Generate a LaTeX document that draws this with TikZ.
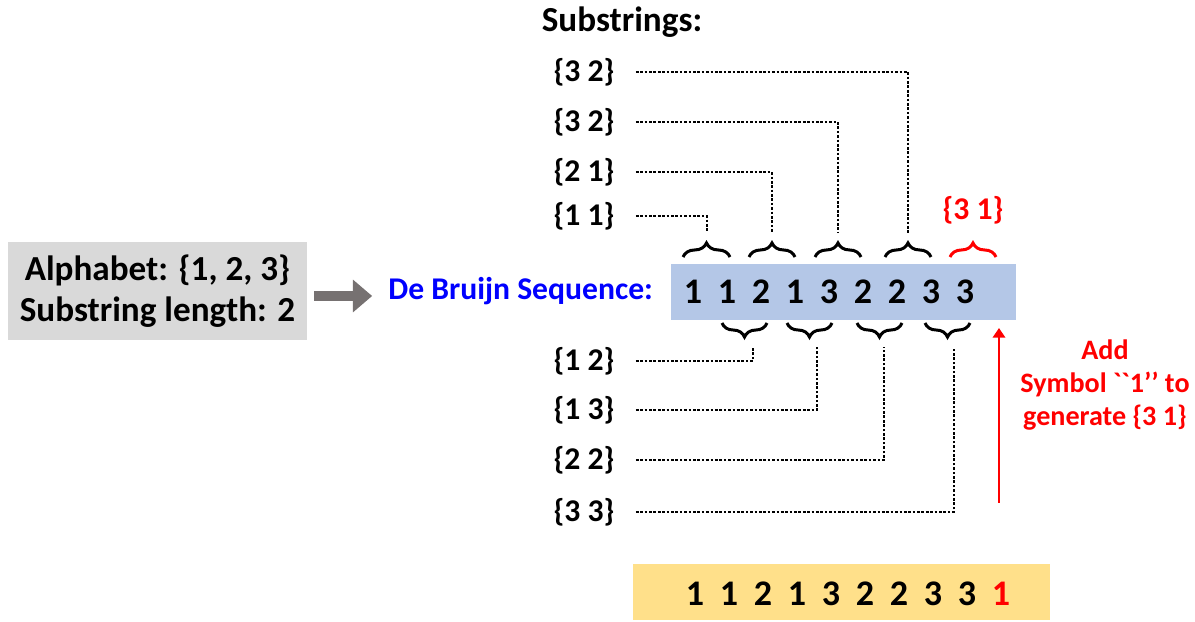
\documentclass[tikz,border=0pt]{standalone}
\usepackage{fontspec}
\setmainfont{Carlito}[Ligatures=TeXOff]
\usepackage{xcolor}
\usepackage{tikz}
\usetikzlibrary{arrows.meta,decorations.pathreplacing}
\definecolor{boxgray}{HTML}{D9D9D9}
\definecolor{arrowgray}{HTML}{767171}
\definecolor{seqblue}{HTML}{B4C7E7}
\definecolor{seqyellow}{HTML}{FFE08A}
\definecolor{dbblue}{HTML}{0000FF}
\definecolor{addred}{HTML}{FF0000}

\begin{document}
\begin{tikzpicture}[scale=0.2]
\tikzstyle{every node}+=[inner sep=0pt]
\tikzstyle{sub}=[font=\fontsize{18}{22}\selectfont\bfseries, inner xsep=12pt]
\tikzstyle{digit}=[font=\fontsize{20.5}{24}\selectfont\bfseries]
\tikzstyle{curly}=[decorate, decoration={brace, amplitude=8pt}, line width=1.7pt]
\tikzstyle{curlyflip}=[decorate, decoration={brace, amplitude=8pt, mirror}, line width=1.7pt]
\tikzstyle{link}=[line width=1.6pt, dash pattern=on 1.5pt off 1pt]
\useasboundingbox (0,0) rectangle (119.5,-62.2);
\node [fill=boxgray, minimum width=5.98cm, minimum height=1.96cm, align=center,
  font=\fontsize{20}{23}\selectfont\bfseries] (alpha) at (15.75,-29.1)
  {Alphabet: \{1, 2, 3\}\\Substring length: 2};
\node [anchor=base west, text=dbblue, font=\fontsize{18}{22}\selectfont\bfseries] (dbs) at (38.8,-30.0) {De Bruijn Sequence:};
\draw [arrowgray, line width=6pt, shorten <=4pt, shorten >=9pt, -{Triangle[width=18pt,length=11pt]}] (alpha.east |- 0,-29.6) -- (dbs.west |- 0,-29.6);
\node [fill=seqblue, minimum width=6.9cm, minimum height=1.12cm] (seq) at (84.35,-29.2) {};
\node [digit] (a1) at (69.3,-29.2) {1};
\node [digit] (a2) at (72.7,-29.2) {1};
\node [digit] (a3) at (76.1,-29.2) {2};
\node [digit] (a4) at (79.5,-29.2) {1};
\node [digit] (a5) at (82.9,-29.2) {3};
\node [digit] (a6) at (86.3,-29.2) {2};
\node [digit] (a7) at (89.7,-29.2) {2};
\node [digit] (a8) at (93.1,-29.2) {3};
\node [digit] (a9) at (96.5,-29.2) {3};
\node [sub, font=\fontsize{20}{24}\selectfont\bfseries] at (62.2,-2.2) {Substrings:};
\node [sub] (s32a) at (58.4,-7.2) {\{3 2\}};
\node [sub] (s32b) at (58.4,-12.2) {\{3 2\}};
\node [sub] (s21) at (58.4,-17.2) {\{2 1\}};
\node [sub] (s11) at (58.4,-21.6) {\{1 1\}};
\node [sub] (s12) at (58.4,-36.1) {\{1 2\}};
\node [sub] (s13) at (58.4,-41.0) {\{1 3\}};
\node [sub] (s22) at (58.4,-46.0) {\{2 2\}};
\node [sub] (s33) at (58.4,-51.2) {\{3 3\}};
\node [sub, text=addred] (s31) at (97.3,-21.0) {\{3 1\}};
\draw [curly] (68.3,-25.7) -- (73.0,-25.7);
\draw [curly] (74.9,-25.7) -- (79.5,-25.7);
\draw [curly] (81.5,-25.7) -- (86.1,-25.7);
\draw [curly] (88.5,-25.7) -- (93.1,-25.7);
\draw [curly, addred] (95.0,-25.7) -- (99.6,-25.7);
\draw [curlyflip] (72.2,-32.3) -- (76.7,-32.3);
\draw [curlyflip] (78.7,-32.3) -- (83.2,-32.3);
\draw [curlyflip] (85.7,-32.3) -- (90.2,-32.3);
\draw [curlyflip] (92.5,-32.3) -- (97.0,-32.3);
\coordinate (t1) at (70.7,-23.2);
\coordinate (t2) at (77.2,-23.3);
\coordinate (t3) at (83.8,-23.3);
\coordinate (t4) at (90.8,-23.3);
\coordinate (u1) at (75.3,-34.7);
\coordinate (u2) at (81.7,-34.7);
\coordinate (u3) at (88.4,-34.7);
\coordinate (u4) at (95.4,-34.7);
\draw [link] (s11.east) -| (t1);
\draw [link] (s21.east) -| (t2);
\draw [link] (s32b.east) -| (t3);
\draw [link] (s32a.east) -| (t4);
\draw [link] (s12.east) -| (u1);
\draw [link] (s13.east) -| (u2);
\draw [link] (s22.east) -| (u3);
\draw [link] (s33.east) -| (u4);
\coordinate (addbot) at (99.9,-50.3);
\coordinate (addtop) at (99.9,-32.8);
\draw [addred, line width=1.7pt, -{Triangle[width=7pt,length=5.5pt]}] (addbot) -- (addtop);
\node [align=center, text=addred, font=\fontsize{16}{18.8}\selectfont\bfseries] (addtxt) at (110.5,-38.5)
  {Add\\Symbol ``1’’ to\\generate \{3 1\}};
\node [fill=seqyellow, minimum width=8.34cm, minimum height=1.12cm] (res) at (84.15,-59.2) {};
\node [digit] (b1) at (69.5,-59.4) {1};
\node [digit] (b2) at (72.9,-59.4) {1};
\node [digit] (b3) at (76.3,-59.4) {2};
\node [digit] (b4) at (79.7,-59.4) {1};
\node [digit] (b5) at (83.1,-59.4) {3};
\node [digit] (b6) at (86.5,-59.4) {2};
\node [digit] (b7) at (89.9,-59.4) {2};
\node [digit] (b8) at (93.3,-59.4) {3};
\node [digit] (b9) at (96.7,-59.4) {3};
\node [digit, text=addred] (b10) at (100.1,-59.4) {1};
\end{tikzpicture}
\end{document}
